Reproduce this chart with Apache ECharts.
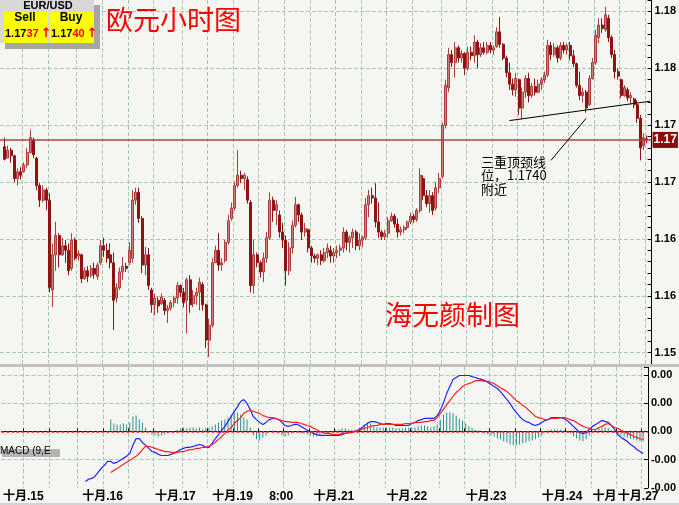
<!DOCTYPE html>
<html><head><meta charset="utf-8">
<script src="https://cdn.jsdelivr.net/npm/echarts/dist/echarts.min.js"></script>
<style>html,body{margin:0;padding:0;background:#f5f5f1}#c{width:679px;height:505px}</style>
</head><body><div id="c"></div>
<script>
// ---------- data ----------
const categories = Array.from({length: 204}, (_, i) => String(i));
const firstCandle = 1;
const open = [1.1731,1.1721,1.1728,1.1723,1.1703,1.1709,1.1709,1.1715,1.1726,1.1737,1.1721,1.1697,1.1684,1.1693,1.1684,1.1605,1.1636,1.1653,1.1636,1.1644,
1.1640,1.1624,1.1649,1.1635,1.1636,1.1615,1.1622,1.1618,1.1624,1.1617,1.1629,1.1644,1.1640,1.1636,1.1629,1.1598,1.1607,1.1621,1.1626,1.1629,
1.1633,1.1684,1.1691,1.1668,1.1627,1.1636,1.1605,1.1592,1.1596,1.1593,1.1596,1.1587,1.1589,1.1594,1.1598,1.1609,1.1603,1.1596,1.1614,1.1593,
1.1600,1.1603,1.1610,1.1592,1.1561,1.1574,1.1629,1.1640,1.1627,1.1631,1.1647,1.1668,1.1677,1.1697,1.1706,1.1703,1.1702,1.1682,1.1609,1.1636,
1.1629,1.1621,1.1633,1.1651,1.1684,1.1675,1.1671,1.1656,1.1649,1.1622,1.1642,1.1662,1.1680,1.1671,1.1656,1.1658,1.1642,1.1635,1.1633,1.1636,
1.1631,1.1638,1.1640,1.1635,1.1638,1.1640,1.1642,1.1656,1.1647,1.1651,1.1656,1.1644,1.1649,1.1651,1.1680,1.1688,1.1686,1.1665,1.1656,1.1652,
1.1655,1.1666,1.1670,1.1663,1.1656,1.1658,1.1660,1.1665,1.1670,1.1667,1.1675,1.1703,1.1688,1.1681,1.1688,1.1677,1.1695,1.1705,1.1750,1.1783,
1.1812,1.1805,1.1818,1.1809,1.1813,1.1800,1.1814,1.1811,1.1823,1.1812,1.1818,1.1814,1.1820,1.1816,1.1819,1.1832,1.1821,1.1809,1.1796,1.1786,
1.1781,1.1790,1.1765,1.1779,1.1791,1.1776,1.1784,1.1779,1.1786,1.1790,1.1794,1.1820,1.1812,1.1818,1.1809,1.1820,1.1816,1.1820,1.1811,1.1804,
1.1785,1.1776,1.1779,1.1768,1.1791,1.1805,1.1827,1.1838,1.1834,1.1844,1.1827,1.1812,1.1797,1.1790,1.1776,1.1781,1.1774,1.1773,1.1768,1.1756,
1.1732,1.1738];
const close = [1.1720,1.1728,1.1723,1.1703,1.1709,1.1706,1.1715,1.1726,1.1739,1.1724,1.1697,1.1684,1.1693,1.1684,1.1607,1.1636,1.1653,1.1636,1.1644,1.1640,
1.1622,1.1649,1.1633,1.1637,1.1615,1.1622,1.1617,1.1624,1.1619,1.1627,1.1644,1.1640,1.1633,1.1629,1.1596,1.1607,1.1621,1.1626,1.1624,1.1640,
1.1684,1.1691,1.1668,1.1627,1.1636,1.1609,1.1592,1.1598,1.1591,1.1599,1.1587,1.1589,1.1594,1.1598,1.1609,1.1603,1.1594,1.1614,1.1592,1.1600,
1.1603,1.1612,1.1592,1.1561,1.1574,1.1629,1.1640,1.1627,1.1629,1.1647,1.1666,1.1677,1.1697,1.1706,1.1703,1.1706,1.1684,1.1609,1.1636,1.1629,
1.1621,1.1633,1.1651,1.1684,1.1675,1.1680,1.1656,1.1649,1.1622,1.1642,1.1662,1.1680,1.1671,1.1656,1.1659,1.1642,1.1635,1.1633,1.1636,1.1631,
1.1638,1.1642,1.1635,1.1638,1.1640,1.1642,1.1656,1.1647,1.1651,1.1656,1.1644,1.1649,1.1651,1.1680,1.1688,1.1686,1.1665,1.1656,1.1652,1.1655,
1.1666,1.1670,1.1663,1.1656,1.1658,1.1660,1.1665,1.1670,1.1667,1.1675,1.1706,1.1688,1.1681,1.1688,1.1675,1.1695,1.1703,1.1750,1.1785,1.1812,
1.1805,1.1818,1.1809,1.1813,1.1800,1.1814,1.1811,1.1823,1.1812,1.1818,1.1814,1.1820,1.1816,1.1818,1.1832,1.1821,1.1809,1.1796,1.1786,1.1781,
1.1791,1.1765,1.1779,1.1791,1.1776,1.1784,1.1779,1.1786,1.1790,1.1794,1.1820,1.1812,1.1818,1.1809,1.1820,1.1816,1.1820,1.1811,1.1804,1.1785,
1.1776,1.1779,1.1765,1.1791,1.1805,1.1829,1.1838,1.1835,1.1847,1.1827,1.1812,1.1797,1.1793,1.1776,1.1783,1.1774,1.1776,1.1768,1.1756,1.1730,
1.1739,1.1737];
const low = [1.1719,1.1721,1.1717,1.1700,1.1697,1.1702,1.1708,1.1712,1.1725,1.1721,1.1693,1.1678,1.1682,1.1675,1.1603,1.1590,1.1622,1.1625,1.1635,1.1629,
1.1618,1.1622,1.1631,1.1631,1.1611,1.1614,1.1612,1.1616,1.1615,1.1614,1.1627,1.1634,1.1629,1.1624,1.1570,1.1594,1.1605,1.1614,1.1621,1.1627,
1.1629,1.1680,1.1664,1.1620,1.1618,1.1605,1.1585,1.1583,1.1585,1.1592,1.1583,1.1576,1.1587,1.1590,1.1593,1.1599,1.1590,1.1567,1.1585,1.1590,
1.1592,1.1587,1.1587,1.1554,1.1546,1.1572,1.1629,1.1622,1.1622,1.1629,1.1645,1.1666,1.1675,1.1695,1.1699,1.1693,1.1681,1.1603,1.1602,1.1625,
1.1616,1.1612,1.1629,1.1649,1.1665,1.1662,1.1651,1.1642,1.1609,1.1618,1.1637,1.1660,1.1665,1.1649,1.1652,1.1638,1.1629,1.1629,1.1627,1.1627,
1.1629,1.1633,1.1629,1.1629,1.1633,1.1635,1.1638,1.1640,1.1638,1.1642,1.1640,1.1640,1.1643,1.1649,1.1669,1.1681,1.1660,1.1651,1.1649,1.1649,
1.1651,1.1665,1.1660,1.1651,1.1653,1.1655,1.1658,1.1663,1.1664,1.1665,1.1673,1.1684,1.1678,1.1673,1.1671,1.1675,1.1690,1.1703,1.1747,1.1779,
1.1801,1.1792,1.1805,1.1805,1.1794,1.1798,1.1807,1.1805,1.1800,1.1810,1.1812,1.1812,1.1813,1.1812,1.1818,1.1818,1.1807,1.1792,1.1781,1.1776,
1.1775,1.1759,1.1755,1.1774,1.1770,1.1774,1.1776,1.1778,1.1781,1.1787,1.1792,1.1807,1.1810,1.1805,1.1807,1.1813,1.1812,1.1807,1.1801,1.1783,
1.1772,1.1770,1.1761,1.1767,1.1790,1.1803,1.1822,1.1831,1.1832,1.1823,1.1809,1.1791,1.1790,1.1774,1.1775,1.1771,1.1768,1.1765,1.1752,1.1719,
1.1728,1.1734];
const high = [1.1739,1.1732,1.1730,1.1724,1.1712,1.1713,1.1717,1.1730,1.1746,1.1739,1.1722,1.1699,1.1697,1.1695,1.1690,1.1646,1.1665,1.1655,1.1651,1.1649,
1.1646,1.1655,1.1651,1.1640,1.1637,1.1625,1.1626,1.1627,1.1629,1.1629,1.1649,1.1651,1.1646,1.1646,1.1638,1.1611,1.1625,1.1634,1.1629,1.1647,
1.1693,1.1695,1.1695,1.1670,1.1643,1.1642,1.1607,1.1602,1.1599,1.1602,1.1598,1.1592,1.1596,1.1600,1.1612,1.1610,1.1607,1.1616,1.1618,1.1605,
1.1607,1.1616,1.1612,1.1593,1.1580,1.1633,1.1644,1.1655,1.1633,1.1649,1.1671,1.1682,1.1700,1.1728,1.1710,1.1708,1.1705,1.1684,1.1649,1.1638,
1.1631,1.1638,1.1656,1.1691,1.1687,1.1684,1.1675,1.1664,1.1653,1.1647,1.1666,1.1687,1.1681,1.1673,1.1664,1.1659,1.1644,1.1637,1.1637,1.1640,
1.1642,1.1646,1.1644,1.1642,1.1644,1.1645,1.1660,1.1658,1.1653,1.1659,1.1658,1.1655,1.1653,1.1686,1.1693,1.1695,1.1699,1.1682,1.1658,1.1658,
1.1669,1.1673,1.1672,1.1668,1.1661,1.1662,1.1666,1.1673,1.1672,1.1677,1.1712,1.1706,1.1693,1.1693,1.1691,1.1700,1.1708,1.1752,1.1790,1.1818,
1.1816,1.1823,1.1820,1.1816,1.1814,1.1819,1.1819,1.1829,1.1825,1.1822,1.1823,1.1823,1.1823,1.1820,1.1836,1.1845,1.1822,1.1811,1.1805,1.1791,
1.1796,1.1791,1.1783,1.1794,1.1796,1.1787,1.1791,1.1790,1.1792,1.1797,1.1825,1.1823,1.1822,1.1820,1.1823,1.1823,1.1822,1.1823,1.1816,1.1805,
1.1797,1.1783,1.1781,1.1794,1.1809,1.1834,1.1844,1.1844,1.1854,1.1847,1.1829,1.1816,1.1800,1.1791,1.1785,1.1783,1.1779,1.1774,1.1772,1.1759,
1.1743,1.1741];

const macdStart = 26;
const macdLine = [-0.00177,-0.00169,-0.00166,-0.00159,-0.00145,-0.00131,-0.00120,-0.00106,
-0.00106,-0.00113,-0.00109,-0.00102,-0.00095,-0.00088,-0.00078,
-0.00049,-0.00025,-0.00025,-0.00039,-0.00049,
-0.00060,-0.00071,-0.00074,-0.00081,-0.00085,-0.00085,-0.00085,-0.00081,-0.00078,-0.00071,
-0.00064,-0.00060,-0.00056,-0.00056,-0.00053,-0.00049,-0.00046,-0.00049,-0.00056,-0.00056,
-0.00042,-0.00025,-0.00011,0.00004,0.00018,0.00035,0.00053,0.00071,0.00088,0.00106,
0.00113,0.00099,0.00078,0.00053,0.00042,0.00032,0.00025,0.00032,0.00042,0.00046,
0.00046,0.00042,0.00032,0.00021,0.00018,0.00021,0.00025,0.00025,0.00018,0.00011,
0.00004,0,-0.00007,-0.00011,-0.00014,-0.00014,-0.00014,-0.00014,-0.00014,-0.00014,
-0.00014,-0.00011,-0.00007,-0.00004,0,0,0.00004,0.00011,0.00021,0.00028,
0.00035,0.00035,0.00032,0.00028,0.00025,0.00028,0.00028,0.00025,0.00021,0.00021,
0.00021,0.00021,0.00021,0.00028,0.00032,0.00039,0.00042,0.00046,0.00046,0.00046,
0.00046,0.00056,0.00074,0.00102,0.00134,0.00159,0.00184,0.00191,0.00198,0.00198,
0.00198,0.00198,0.00194,0.00191,0.00187,0.00184,0.00180,0.00173,0.00166,0.00159,
0.00152,0.00141,0.00127,0.00113,0.00099,0.00081,0.00067,0.00053,0.00042,0.00035,
0.00032,0.00025,0.00021,0.00025,0.00032,0.00039,0.00042,0.00049,0.00049,0.00049,
0.00049,0.00046,0.00039,0.00028,0.00018,0.00007,-0.00004,-0.00007,-0.00004,0.00007,
0.00018,0.00025,0.00032,0.00039,0.00035,0.00032,0.00021,0.00007,-0.00011,-0.00021,
-0.00028,-0.00035,-0.00046,-0.00053,-0.00064,-0.00071,-0.00078];

const signalStart = 34;
const signalLine = [-0.00145,-0.00138,-0.00131,-0.00124,-0.00116,-0.00109,-0.00102,-0.00095,-0.00088,-0.00078,-0.00064,-0.00053,
-0.00053,-0.00056,-0.00060,-0.00064,-0.00067,-0.00071,-0.00071,-0.00074,-0.00074,-0.00074,
-0.00071,-0.00071,-0.00067,-0.00064,-0.00064,-0.00060,-0.00060,-0.00056,-0.00056,-0.00053,
-0.00046,-0.00039,-0.00028,-0.00018,-0.00007,0.00004,0.00014,0.00028,0.00039,0.00049,
0.00064,0.00071,0.00074,0.00071,0.00067,0.00064,0.00056,0.00053,0.00049,0.00049,
0.00046,0.00042,0.00039,0.00035,0.00035,0.00032,0.00032,0.00032,0.00028,0.00025,
0.00021,0.00018,0.00011,0.00007,0,-0.00004,-0.00007,-0.00007,-0.00011,-0.00011,
-0.00011,-0.00007,-0.00007,-0.00004,-0.00004,0,0.00004,0.00007,0.00011,0.00014,
0.00018,0.00021,0.00021,0.00025,0.00025,0.00025,0.00025,0.00025,0.00025,0.00025,
0.00025,0.00028,0.00028,0.00028,0.00032,0.00032,0.00032,0.00035,0.00035,0.00039,
0.00039,0.00049,0.00064,0.00078,0.00095,0.00109,0.00124,0.00138,0.00148,0.00159,
0.00166,0.00169,0.00173,0.00180,0.00180,0.00180,0.00177,0.00177,0.00173,0.00169,
0.00162,0.00155,0.00148,0.00141,0.00131,0.00120,0.00109,0.00102,0.00092,0.00085,
0.00074,0.00064,0.00053,0.00049,0.00046,0.00042,0.00042,0.00046,0.00046,0.00046,
0.00049,0.00049,0.00046,0.00042,0.00039,0.00032,0.00025,0.00018,0.00014,0.00011,
0.00007,0.00007,0.00014,0.00018,0.00025,0.00028,0.00021,0.00014,0.00011,0.00004,
0,-0.00007,-0.00011,-0.00018,-0.00021,-0.00025,-0.00028];

const histogram = [0.00042,0.00028,0.00025,0.00025,0.00028,0.00025,0.00032,0.00053,0.00056,0.00042,0.00032,0.00014,
0,-0.00011,-0.00014,-0.00018,-0.00014,-0.00011,-0.00007,-0.00004,0,0.00007,
0.00011,0.00014,0.00011,0.00014,0.00014,0.00011,0.00014,0.00007,0.00011,0.00014,
0.00018,0.00025,0.00032,0.00039,0.00042,0.00049,0.00060,0.00067,0.00067,0.00060,
0.00049,0.00042,0.00014,-0.00014,-0.00028,-0.00032,-0.00021,-0.00014,0,0.00004,
0,-0.00007,-0.00014,-0.00018,-0.00014,-0.00007,0,-0.00004,-0.00007,-0.00007,
-0.00011,-0.00014,-0.00018,-0.00018,-0.00014,-0.00007,-0.00004,-0.00004,0,0.00004,
0.00007,0.00011,0.00011,0.00007,0.00004,0.00004,0.00007,0.00014,0.00025,0.00032,
0.00028,0.00021,0.00014,0.00014,0.00014,0.00014,0.00014,0.00014,0.00011,0.00011,
0.00011,0.00014,0.00014,0.00014,0.00014,0.00018,0.00021,0.00021,0.00018,0.00014,
0.00018,0.00025,0.00042,0.00060,0.00067,0.00067,0.00064,0.00056,0.00046,0.00039,
0.00028,0.00018,0.00014,0.00007,0.00004,0,-0.00007,-0.00011,-0.00014,-0.00018,
-0.00025,-0.00028,-0.00035,-0.00039,-0.00046,-0.00049,-0.00049,-0.00046,-0.00042,-0.00039,
-0.00035,-0.00032,-0.00028,-0.00021,-0.00014,-0.00004,0.00004,0.00007,0.00007,0.00007,
0.00007,0.00004,0,-0.00007,-0.00018,-0.00025,-0.00032,-0.00035,-0.00028,-0.00014,
0,0.00007,0.00014,0.00014,0.00014,0.00011,0.00004,-0.00004,-0.00011,-0.00014,
-0.00018,-0.00021,-0.00025,-0.00028,-0.00032,-0.00035,-0.00035];

const xLabelIndex = [0, 25, 48, 66, 84, 98, 121, 146, 170, 186, 194];
const xLabelText = ['十月.15','十月.16','十月.17','十月.19','8:00','十月.21','十月.22','十月.23','十月.24','十月','十月.27'];
const xGridIndex = [7,15,24,32,40,48,57,65,73,81,89,97,105,113,121,129,138,146,154,162,170,178,186,194,202];
const priceTicks = [1.155, 1.160, 1.165, 1.170, 1.175, 1.180, 1.185];
const priceTickLabels = ['1.15','1.16','1.16','1.17','1.17','1.18','1.18'];
const macdTicks = [-0.002, -0.001, 0, 0.001, 0.002];
const macdTickLabels = ['-0.00','-0.00','0.00','0.00','0.00'];
const macdGridTicks = [-0.001, 0.001, 0.002];
const lastPrice = 1.1737;
const lastPriceLabel = '1.17';
const neckline = [[159, 1.1754], [203, 1.1771]];
const pointerLine = [[172, 1.1719], [183, 1.1756]];

// ---------- build ----------
const candleData = categories.map((_, i) => {
  const k = i - firstCandle;
  return (k >= 0 && k < open.length) ? [open[k], close[k], low[k], high[k]] : '-';
});
const pad = (arr, start) => categories.map((_, i) => {
  const k = i - start;
  return (k >= 0 && k < arr.length) ? arr[k] : '-';
});
const tickLabel = (ticks, labels, v) => {
  const j = ticks.findIndex(t => Math.abs(t - v) < 1e-7);
  return j >= 0 ? labels[j] : '';
};
const gridSet = new Set(xGridIndex);
const FONT = '"Liberation Sans", "Noto Sans CJK SC", sans-serif';
const GRIDC = '#a9c9b4';
const gridLineStyle = {color: GRIDC, type: 'dashed', width: 1, dashOffset: 0};

const chart = echarts.init(document.getElementById('c'), null, {renderer: 'canvas'});
chart.setOption({
  animation: false,
  backgroundColor: '#f5f5f1',
  textStyle: {fontFamily: FONT},
  grid: [
    {left: 0, right: 25, top: 0, height: 364},
    {left: 0, right: 25, top: 367, height: 121}
  ],
  xAxis: [
    {type: 'category', gridIndex: 0, data: categories, boundaryGap: true,
     axisLine: {show: false}, axisTick: {show: false}, axisLabel: {show: false},
     splitLine: {show: true, interval: (i) => gridSet.has(i), lineStyle: gridLineStyle}},
    {type: 'category', gridIndex: 1, data: categories, boundaryGap: true,
     axisLine: {show: true, lineStyle: {color: '#000', width: 1}},
     axisTick: {show: true, inside: true, length: 3, interval: (i) => gridSet.has(i), lineStyle: {color: '#000'}},
     axisLabel: {show: true, interval: (i) => xLabelIndex.includes(i), align: 'left', margin: 3, hideOverlap: false,
       color: '#000', fontWeight: 'bold', fontSize: 12, fontFamily: FONT,
       formatter: (v, i) => { const j = xLabelIndex.indexOf(i); return j >= 0 ? xLabelText[j] : ''; }},
     splitLine: {show: true, interval: (i) => gridSet.has(i), lineStyle: gridLineStyle}}
  ],
  yAxis: [
    {type: 'value', gridIndex: 0, position: 'right', min: 1.154, max: 1.186, interval: 0.001,
     axisLine: {show: true, onZero: false, lineStyle: {color: '#000'}},
     axisTick: {show: true, inside: true, length: 4, lineStyle: {color: '#000'}},
     axisLabel: {margin: 3, color: '#000', fontWeight: 'bold', fontSize: 11, fontFamily: FONT,
       formatter: (v) => tickLabel(priceTicks, priceTickLabels, v)},
     splitLine: {show: false}},
    {type: 'value', gridIndex: 1, position: 'right', min: -0.002, max: 0.00228, interval: 0.001,
     axisLine: {show: true, onZero: false, lineStyle: {color: '#000'}},
     axisTick: {show: true, inside: true, length: 4, lineStyle: {color: '#000'}},
     axisLabel: {margin: 3, color: '#000', fontWeight: 'bold', fontSize: 11, fontFamily: FONT,
       formatter: (v) => tickLabel(macdTicks, macdTickLabels, v)},
     splitLine: {show: false}}
  ],
  series: [
    // horizontal grid lines of the price panel (drawn beneath the candles)
    {type: 'line', xAxisIndex: 0, yAxisIndex: 0, data: [], silent: true, z: 0,
     markLine: {symbol: 'none', silent: true, animation: false, precision: 4, z: 0, label: {show: false},
       lineStyle: gridLineStyle, data: priceTicks.map(v => ({yAxis: v}))}},
    {type: 'line', xAxisIndex: 1, yAxisIndex: 1, data: [], silent: true, z: 0,
     markLine: {symbol: 'none', silent: true, animation: false, precision: 5, z: 0, label: {show: false},
       lineStyle: gridLineStyle, data: macdGridTicks.map(v => ({yAxis: v}))}},
    {type: 'candlestick', xAxisIndex: 0, yAxisIndex: 0, data: candleData, barWidth: 2.5,
     itemStyle: {color: '#cc7c7c', color0: '#8e1414', borderColor: '#ad3c3c', borderColor0: '#8e1414', borderWidth: 1},
     markLine: {symbol: 'none', silent: true, animation: false, precision: 4,
       data: [
         {yAxis: lastPrice, lineStyle: {color: 'rgba(170,70,70,0.75)', width: 2, type: 'solid'},
          label: {show: true, position: 'end', distance: 1, formatter: lastPriceLabel, color: '#fff',
            backgroundColor: '#8b0a0a', padding: [2, 1, 2, 1], fontWeight: 'bold', fontSize: 12, lineHeight: 12, fontFamily: FONT}},
         [{coord: neckline[0], lineStyle: {color: '#000', width: 1, type: 'solid'}, label: {show: false}}, {coord: neckline[1]}],
         [{coord: pointerLine[0], lineStyle: {color: '#000', width: 1, type: 'solid'}, label: {show: false}}, {coord: pointerLine[1]}]
       ]}},
    {type: 'bar', xAxisIndex: 1, yAxisIndex: 1, data: pad(histogram, signalStart), barWidth: 1,
     itemStyle: {color: '#2a8f8f'},
     markLine: {symbol: 'none', silent: true, animation: false, precision: 5, label: {show: false},
       data: [{yAxis: 0}], lineStyle: {color: '#ff1a1a', type: [3, 2], width: 1.5}}},
    {type: 'line', xAxisIndex: 1, yAxisIndex: 1, data: pad(macdLine, macdStart), showSymbol: false,
     lineStyle: {color: '#2222ff', width: 1.2}, z: 4},
    {type: 'line', xAxisIndex: 1, yAxisIndex: 1, data: pad(signalLine, signalStart), showSymbol: false,
     lineStyle: {color: '#ff2020', width: 1.2}, z: 4}
  ],
  graphic: [
    {type: 'rect', shape: {x: 0, y: 364, width: 679, height: 3}, style: {fill: '#c2c2c2'}, z: 10},
    {type: 'rect', shape: {x: 0, y: 503, width: 679, height: 2}, style: {fill: '#d4d4d4'}, z: 10},
    // quote box
    {type: 'rect', shape: {x: 5, y: 5, width: 95, height: 44}, style: {fill: '#a6a6a6'}, z: 10},
    {type: 'rect', shape: {x: 0, y: 0, width: 94, height: 43}, style: {fill: '#d8d8d8'}, z: 10},
    {type: 'rect', shape: {x: 4, y: 12, width: 44, height: 31}, style: {fill: '#ffff00'}, z: 11},
    {type: 'rect', shape: {x: 50, y: 12, width: 44, height: 31}, style: {fill: '#ffff00'}, z: 11},
    {type: 'text', x: 48, y: 6, z: 12, style: {text: 'EUR/USD', align: 'center', verticalAlign: 'middle', font: 'bold 11px ' + FONT, fill: '#000'}},
    {type: 'text', x: 25, y: 18, z: 12, style: {text: 'Sell', align: 'center', verticalAlign: 'middle', font: 'bold 12px ' + FONT, fill: '#000'}},
    {type: 'text', x: 71, y: 18, z: 12, style: {text: 'Buy', align: 'center', verticalAlign: 'middle', font: 'bold 12px ' + FONT, fill: '#000'}},
    {type: 'text', x: 5, y: 34, z: 12, style: {text: '{a|1.17}{b|37}{c|↑}', verticalAlign: 'middle',
      rich: {a: {font: 'bold 11px ' + FONT, fill: '#000'}, b: {font: 'bold 11px ' + FONT, fill: '#ff0000'},
             c: {font: 'bold 13px "DejaVu Sans"', fill: '#ff0000', padding: [0, 0, 0, 2]}}}},
    {type: 'text', x: 51, y: 34, z: 12, style: {text: '{a|1.17}{b|40}{c|↑}', verticalAlign: 'middle',
      rich: {a: {font: 'bold 11px ' + FONT, fill: '#000'}, b: {font: 'bold 11px ' + FONT, fill: '#ff0000'},
             c: {font: 'bold 13px "DejaVu Sans"', fill: '#ff0000', padding: [0, 0, 0, 2]}}}},
    // titles
    {type: 'text', x: 106, y: 20, z: 12, style: {text: '欧元小时图', verticalAlign: 'middle', font: '27px "Noto Sans CJK SC"', fill: '#ff0000'}},
    {type: 'text', x: 385, y: 315, z: 12, style: {text: '海无颜制图', verticalAlign: 'middle', font: '27px "Noto Sans CJK SC"', fill: '#ff0000'}},
    // annotation
    {type: 'text', x: 481, y: 155, z: 12, style: {text: '三重顶颈线\n位，1.1740\n附近', font: '13px "Noto Sans CJK SC"', lineHeight: 13.5, fill: '#000'}},
    // MACD label
    {type: 'rect', shape: {x: 2, y: 449, width: 58, height: 8, r: 1}, style: {fill: '#b4b4b4'}, z: 10},
    {type: 'text', x: 0, y: 446, z: 11, style: {text: 'MACD (9,E', font: '10px ' + FONT, fill: '#000'}}
  ]
});
</script></body></html>
